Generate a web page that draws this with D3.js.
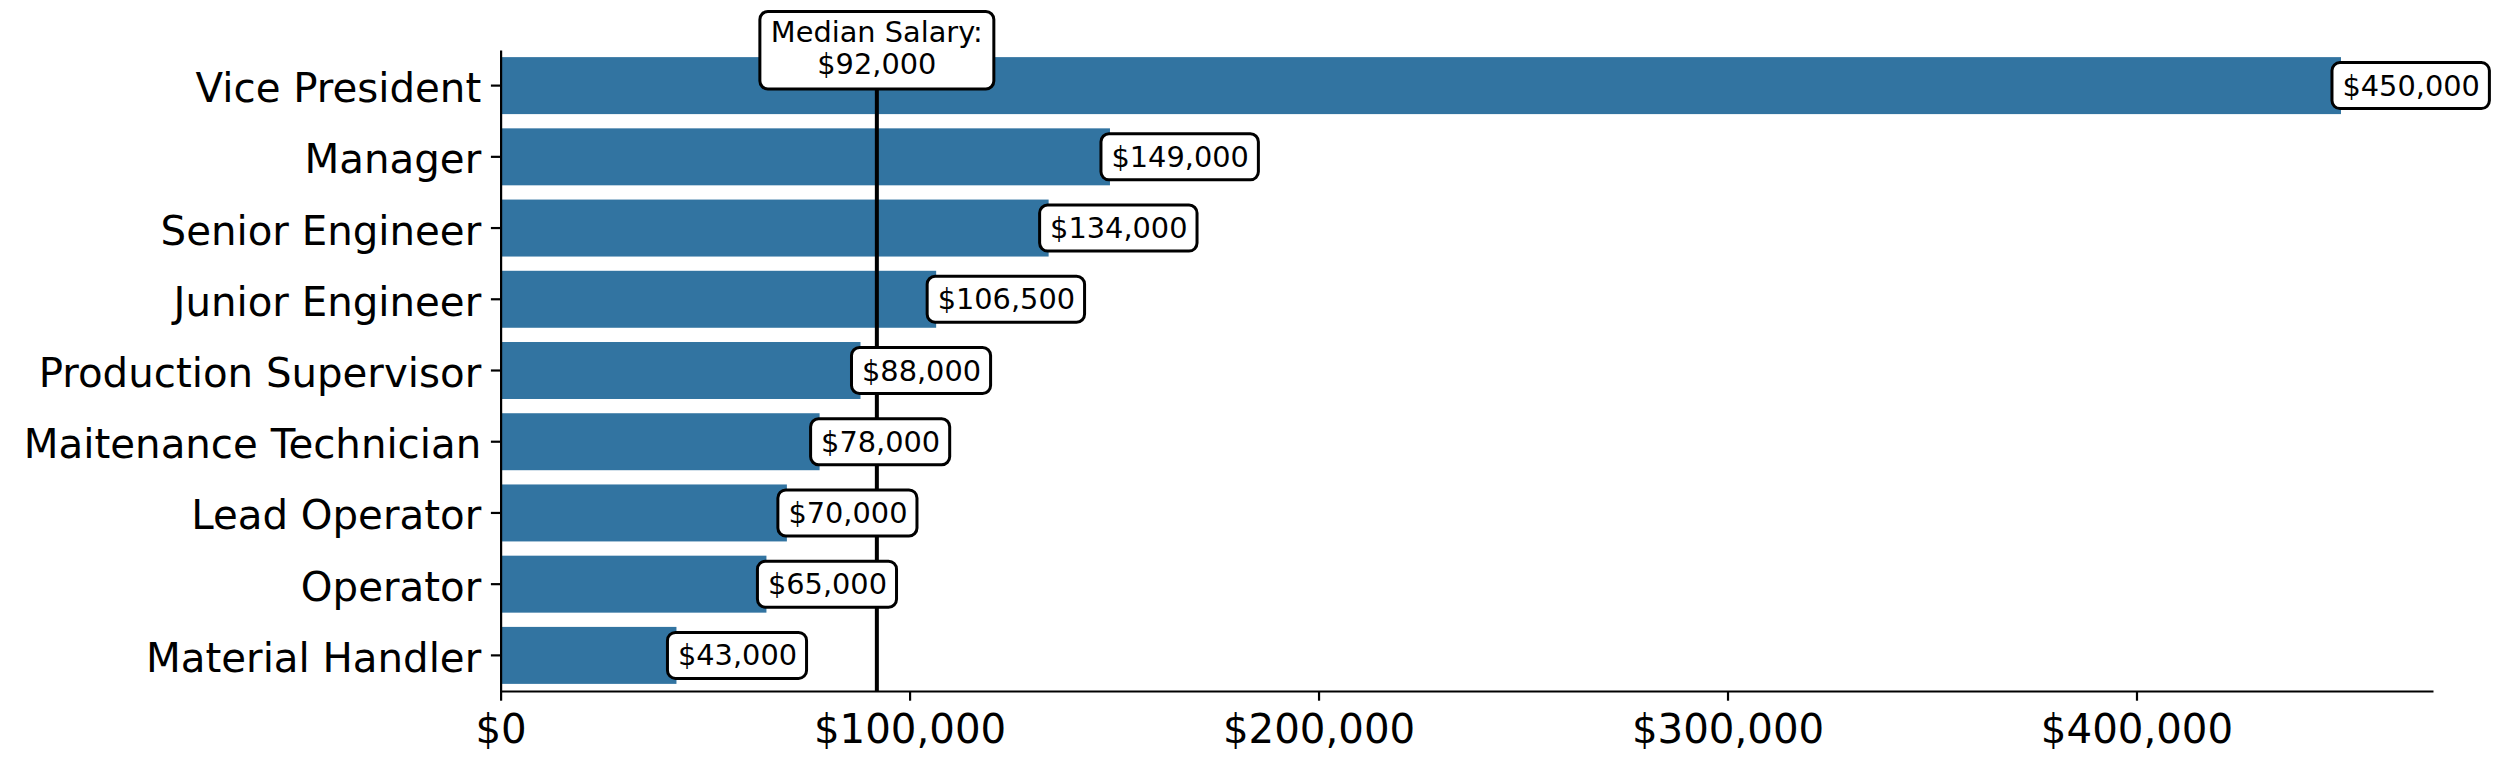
<!DOCTYPE html>
<html>
<head>
<meta charset="utf-8">
<script src="https://cdn.jsdelivr.net/npm/d3@7"></script>
<style>
  body { margin: 0; background: #fff; }
  text { font-family: "DejaVu Sans", sans-serif; }
</style>
</head>
<body>
<div id="chart"></div>
<script>
// job titles, top to bottom
const titles = ["Vice President", "Manager", "Senior Engineer", "Junior Engineer",
    "Production Supervisor", "Maitenance Technician", "Lead Operator", "Operator", "Material Handler"];
const salaries = [450000, 149000, 134000, 106500, 88000, 78000, 70000, 65000, 43000];
const xTicks = [0, 100000, 200000, 300000, 400000];
const medianSalary = 92000;

const W = 2500, H = 771;
const margin = {top: 50, right: 67, bottom: 80, left: 500.6};
const fmt = d => "$" + d3.format(",")(d);

const svg = d3.select("#chart").append("svg")
    .attr("width", W)
    .attr("height", H);

const x = d3.scaleLinear()
    .domain([0, d3.max(salaries) * 1.05])
    .range([margin.left, W - margin.right]);

const y = d3.scaleBand()
    .domain(titles)
    .range([margin.top, H - margin.bottom])
    .paddingInner(0.2)
    .paddingOuter(0.1);

const data = titles.map((t, i) => ({title: t, value: salaries[i]}));

// bars
svg.selectAll(".bar")
    .data(data)
    .enter().append("rect")
    .attr("class", "bar")
    .attr("x", x(0))
    .attr("y", d => y(d.title))
    .attr("width", d => x(d.value) - x(0))
    .attr("height", y.bandwidth())
    .attr("fill", "#3274a1");

// axes
const xAxis = svg.append("g")
    .attr("transform", "translate(0," + (H - margin.bottom) + ")")
    .call(d3.axisBottom(x).tickValues(xTicks).tickFormat(fmt).tickSize(9.7).tickPadding(9).tickSizeOuter(0));
xAxis.selectAll("text").style("font-size", "40.3px").attr("fill", "#000")
    .attr("dy", null).attr("y", 52);

const yAxis = svg.append("g")
    .attr("transform", "translate(" + margin.left + ",0)")
    .call(d3.axisLeft(y).tickSize(9.7).tickPadding(9.7).tickSizeOuter(0));
yAxis.selectAll("text").style("font-size", "40.3px").attr("fill", "#000")
    .attr("dy", null).attr("y", 16.5);

svg.selectAll(".domain").attr("stroke", "#000").attr("stroke-width", 2.2);
svg.selectAll(".tick line").attr("stroke", "#000").attr("stroke-width", 2.2);

// median line
svg.append("line")
    .attr("x1", x(medianSalary))
    .attr("x2", x(medianSalary))
    .attr("y1", H - margin.bottom)
    .attr("y2", margin.top)
    .attr("stroke", "#000")
    .attr("stroke-width", 4);

// value labels with rounded boxes
const labels = svg.selectAll(".val")
    .data(data)
    .enter().append("g")
    .attr("class", "val");

labels.append("rect");
labels.append("text")
    .attr("x", d => x(d.value) + 1.5)
    .attr("y", d => y(d.title) + y.bandwidth() / 2 + 10)
    .style("font-size", "28.8px")
    .attr("fill", "#000")
    .text(d => fmt(d.value));

labels.each(function(d) {
    let g = d3.select(this);
    let tw = g.select("text").node().getComputedTextLength();
    g.select("rect")
        .attr("x", x(d.value) - 9)
        .attr("y", y(d.title) + y.bandwidth() / 2 - 23)
        .attr("width", tw + 20)
        .attr("height", 46)
        .attr("rx", 8)
        .attr("fill", "#fff")
        .attr("stroke", "#000")
        .attr("stroke-width", 3);
});

// median annotation
const med = svg.append("g");
const medBox = med.append("rect");
const medText = med.append("text")
    .attr("text-anchor", "middle")
    .style("font-size", "28.8px")
    .attr("fill", "#000");
medText.append("tspan").attr("x", x(medianSalary)).attr("y", margin.top - 8.5).text("Median Salary:");
medText.append("tspan").attr("x", x(medianSalary)).attr("y", margin.top + 24).text(fmt(medianSalary));
const mw = medText.node().getBBox().width + 22;
medBox.attr("x", x(medianSalary) - mw / 2)
    .attr("y", margin.top - 38.5)
    .attr("width", mw)
    .attr("height", 77.5)
    .attr("rx", 8)
    .attr("fill", "#fff")
    .attr("stroke", "#000")
    .attr("stroke-width", 3);
</script>
</body>
</html>
